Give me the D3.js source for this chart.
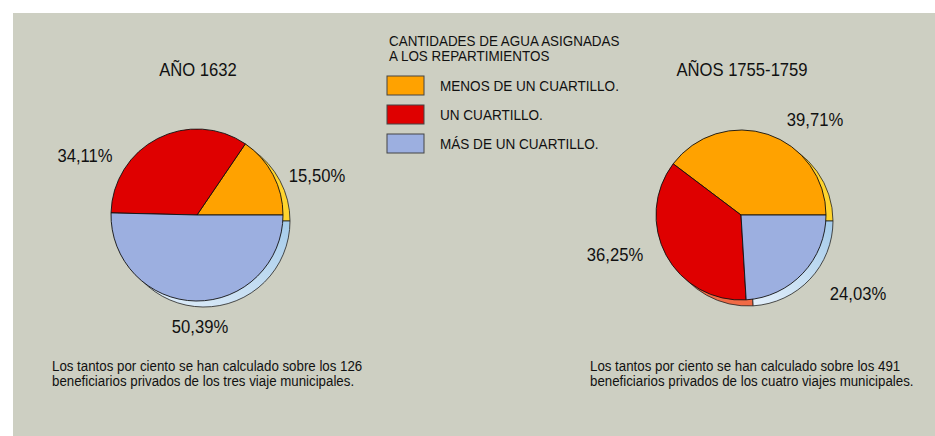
<!DOCTYPE html>
<html>
<head>
<meta charset="utf-8">
<script src="https://cdn.jsdelivr.net/npm/d3@7"></script>
<style>
  html, body { margin: 0; padding: 0; background: #fff; }
  svg { display: block; }
  text { font-family: "Liberation Sans", Arial, sans-serif; fill: #111; }
</style>
</head>
<body>
<div id="vis"></div>
<script>
// categories shared by both pies
const categories = ["MENOS DE UN CUARTILLO.", "UN CUARTILLO.", "MÁS DE UN CUARTILLO."];
const values1632 = [15.50, 34.11, 50.39];
const values1755 = [39.71, 36.25, 24.03];
const legendTitle = ["CANTIDADES DE AGUA ASIGNADAS", "A LOS REPARTIMIENTOS"];
const notes1632 = ["Los tantos por ciento se han calculado sobre los 126", "beneficiarios privados de los tres viaje municipales."];
const notes1755 = ["Los tantos por ciento se han calculado sobre los 491", "beneficiarios privados de los cuatro viajes municipales."];

const W = 935, H = 436;
const color = d3.scaleOrdinal().domain(categories).range(["#ffa200", "#df0000", "#9cafe0"]);
const shade = d3.scaleOrdinal().domain(categories).range(["#ffd42e", "#f06a45", "url(#blueShade)"]);

const es = d3.formatLocale({decimal: ",", thousands: ".", grouping: [3], currency: ["", "€"]});
const pct = v => es.format(".2f")(v) + "%";

const svg = d3.select("#vis").append("svg").attr("width", W).attr("height", H);

// no narrow face installed, so squeeze Liberation Sans horizontally
function place(sel, fx, fy, k = 0.875) {
  sel.attr("transform", (d, i) => `translate(${fx(d, i)},${fy(d, i)}) scale(${k},1)`);
}

const grad = svg.append("defs").append("linearGradient")
    .attr("id", "blueShade").attr("x1", 0).attr("y1", 1).attr("x2", 1).attr("y2", 0);
grad.append("stop").attr("offset", "0%").attr("stop-color", "#e6f1fb");
grad.append("stop").attr("offset", "100%").attr("stop-color", "#a5cbea");

svg.append("rect").attr("x", 13).attr("y", 13).attr("width", W - 13).attr("height", H - 13)
    .attr("fill", "#cdcfc2");

const pies = [
  {title: "AÑO 1632", values: values1632, notes: notes1632, cx: 197, cy: 215, r: 86,
   notesX: 52, labels: [[317, 182], [85, 162], [200, 333]]},
  {title: "AÑOS 1755-1759", values: values1755, notes: notes1755, cx: 741, cy: 215, r: 85,
   notesX: 590, labels: [[815, 126], [615, 261], [858, 300]]}
];

// slices run counter-clockwise from 3 o'clock
const pie = d3.pie().sort(null).value(d => d.v)
    .startAngle(Math.PI / 2).endAngle(Math.PI / 2 - 2 * Math.PI);

pies.forEach(p => {
  const arcsData = pie(p.values.map((v, i) => ({cat: categories[i], v: v})));
  const arc = d3.arc().innerRadius(0).outerRadius(p.r);

  // lighter offset copy gives the tilted-disc edge
  svg.append("g").attr("transform", `translate(${p.cx + 7},${p.cy + 6})`)
    .selectAll("path").data(arcsData).join("path")
      .attr("d", arc)
      .attr("fill", d => shade(d.data.cat))
      .attr("stroke", "#222").attr("stroke-width", 0.8);

  svg.append("g").attr("transform", `translate(${p.cx},${p.cy})`)
    .selectAll("path").data(arcsData).join("path")
      .attr("d", arc)
      .attr("fill", d => color(d.data.cat))
      .attr("stroke", "#111").attr("stroke-width", 0.9);

  svg.append("text").call(place, () => p.cx + 1, () => 76)
    .attr("text-anchor", "middle").style("font-size", "19px").text(p.title);

  svg.append("g").selectAll("text").data(arcsData).join("text")
    .call(place, (d, i) => p.labels[i][0], (d, i) => p.labels[i][1])
    .attr("text-anchor", "middle").style("font-size", "19px")
    .text(d => pct(d.data.v));

  svg.append("g").selectAll("text").data(p.notes).join("text")
    .call(place, () => p.notesX, (d, i) => 371 + i * 15, 0.93)
    .style("font-size", "14.3px").text(d => d);
});

// legend
const lg = svg.append("g");
lg.selectAll("text.t").data(legendTitle).join("text").attr("class", "t")
  .call(place, () => 389, (d, i) => 46 + i * 15, 0.92)
  .style("font-size", "14.6px").text(d => d);
const items = lg.selectAll("g.item").data(categories).join("g").attr("class", "item")
  .attr("transform", (d, i) => `translate(387,${76 + i * 29})`);
items.append("rect").attr("width", 37).attr("height", 19)
  .attr("fill", d => color(d)).attr("stroke", "#444").attr("stroke-width", 1);
items.append("text").call(place, () => 53, () => 15).style("font-size", "15.5px").text(d => d);
</script>
</body>
</html>
